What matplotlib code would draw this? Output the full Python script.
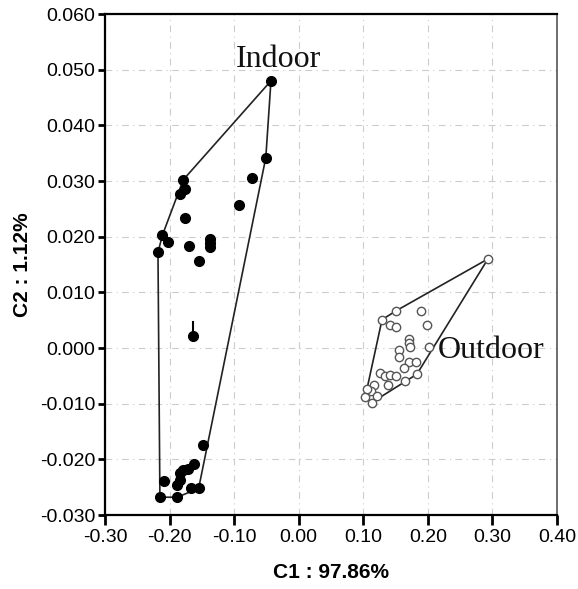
import numpy as np
import matplotlib
matplotlib.use("Agg")
import matplotlib.pyplot as plt

# indoor samples (filled dots)
indoor_x = [-0.043, -0.051, -0.073, -0.092, -0.179, -0.176, -0.184, -0.176,
            -0.211, -0.202, -0.218, -0.170, -0.154, -0.138, -0.138, -0.138,
            -0.164, -0.215, -0.188, -0.208, -0.167, -0.155, -0.189, -0.184,
            -0.179, -0.171, -0.162, -0.184, -0.148]
indoor_y = [0.0480, 0.0342, 0.0306, 0.0257, 0.0302, 0.0285, 0.0277, 0.0233,
            0.0203, 0.0191, 0.0172, 0.0183, 0.0157, 0.0195, 0.0188, 0.0181,
            0.0022, -0.0268, -0.0268, -0.0238, -0.0252, -0.0252, -0.0246, -0.0225,
            -0.0220, -0.0217, -0.0208, -0.0237, -0.0174]

# outdoor samples (open circles)
outdoor_x = [0.293, 0.151, 0.190, 0.129, 0.142, 0.151, 0.199, 0.170, 0.170,
             0.173, 0.201, 0.156, 0.156, 0.170, 0.181, 0.163, 0.183, 0.126,
             0.134, 0.142, 0.150, 0.164, 0.139, 0.116, 0.112, 0.103, 0.113,
             0.121, 0.106]
outdoor_y = [0.0160, 0.0067, 0.0067, 0.0051, 0.0041, 0.0037, 0.0041, 0.0016, 0.0009,
             0.0002, 0.0002, -0.0003, -0.0017, -0.0026, -0.0026, -0.0036, -0.0047, -0.0045,
             -0.0051, -0.0048, -0.0051, -0.0060, -0.0066, -0.0066, -0.0078, -0.0088, -0.0098,
             -0.0087, -0.0074]

# small vertical mark above one indoor point
bar_x = -0.164
bar_y = [0.0030, 0.0046]

xticks = [-0.30, -0.20, -0.10, 0.00, 0.10, 0.20, 0.30, 0.40]
yticks = [-0.030, -0.020, -0.010, 0.000, 0.010, 0.020, 0.030, 0.040, 0.050, 0.060]


def hull(xs, ys):
    pts = sorted(set(zip(xs, ys)))

    def cross(o, a, b):
        return (a[0] - o[0]) * (b[1] - o[1]) - (a[1] - o[1]) * (b[0] - o[0])

    lower = []
    for p in pts:
        while len(lower) >= 2 and cross(lower[-2], lower[-1], p) <= 0:
            lower.pop()
        lower.append(p)
    upper = []
    for p in reversed(pts):
        while len(upper) >= 2 and cross(upper[-2], upper[-1], p) <= 0:
            upper.pop()
        upper.append(p)
    h = lower[:-1] + upper[:-1]
    h.append(h[0])
    return np.array(h)


narrow = ["Liberation Sans Narrow", "Liberation Sans", "DejaVu Sans"]
serif = ["Liberation Serif", "DejaVu Serif"]

fig = plt.figure(figsize=(5.78, 5.89), dpi=100)
ax = fig.add_axes([0.1817, 0.1256, 0.782, 0.8506])

ax.set_xlim(-0.30, 0.40)
ax.set_ylim(-0.030, 0.060)

for xs, ys in [(indoor_x, indoor_y), (outdoor_x, outdoor_y)]:
    h = hull(xs, ys)
    ax.plot(h[:, 0], h[:, 1], color="#222222", lw=1.2, zorder=3)

ax.plot(indoor_x, indoor_y, "o", ms=7, color="black", zorder=4)
ax.plot([bar_x, bar_x], bar_y, color="black", lw=1.5, zorder=4)
ax.plot(outdoor_x, outdoor_y, "o", ms=6, mfc="white", mec="#555555", mew=1.0, zorder=4)

ax.text(-0.098, 0.0505, "Indoor", family=serif, fontsize=23, color="#111111")
ax.text(0.216, -0.0018, "Outdoor", family=serif, fontsize=23, color="#111111")

ax.set_xticks(xticks)
ax.set_yticks(yticks)
ax.set_xticklabels(["%.2f" % v for v in xticks], family=narrow, fontsize=14)
ax.set_yticklabels(["%.3f" % v for v in yticks], family=narrow, fontsize=14)
ax.tick_params(axis="x", direction="out", length=7, width=2, pad=3)
ax.tick_params(axis="y", direction="out", length=5, width=2, pad=2)

ax.grid(True, color="#cccccc", ls=(0, (6, 4, 1, 4)), lw=0.8)
ax.set_axisbelow(True)

for s in ["left", "bottom", "top"]:
    ax.spines[s].set_color("black")
    ax.spines[s].set_linewidth(1.6)
ax.spines["right"].set_color("#555555")
ax.spines["right"].set_linewidth(1.2)

ax.set_xlabel("C1 : 97.86%", family=narrow, fontsize=15, fontweight="bold", labelpad=12)
ax.set_ylabel("C2 : 1.12%", family=narrow, fontsize=15, fontweight="bold", labelpad=6)

fig.savefig("out.png", dpi=100)
